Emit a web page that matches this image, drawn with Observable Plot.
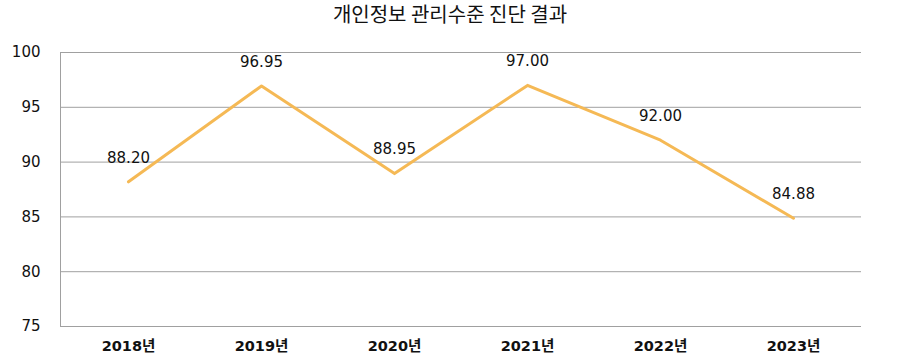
<!DOCTYPE html>
<html><head><meta charset="utf-8">
<script src="https://cdn.jsdelivr.net/npm/d3@7"></script>
<script src="https://cdn.jsdelivr.net/npm/@observablehq/plot@0.6"></script>
<style>
body{margin:0;background:#fff;font-family:"Noto Sans CJK KR","Noto Sans",sans-serif;}
#title{height:30px;line-height:28px;text-align:center;font-size:20px;color:#111;}
</style></head>
<body>
<div id="title">개인정보 관리수준 진단 결과</div>
<div id="chart"></div>
<script>
const years = ["2018년","2019년","2020년","2021년","2022년","2023년"];
const scores = [88.20, 96.95, 88.95, 97.00, 92.00, 84.88];
const yTicks = [75, 80, 85, 90, 95, 100];
const data = years.map((y,i)=>({year:y, score:scores[i]}));
const numFont = '"DejaVu Sans","Noto Sans CJK KR",sans-serif';
const chart = Plot.plot({
  width: 900, height: 332,
  marginTop: 22, marginBottom: 36, marginLeft: 60, marginRight: 39,
  style: {fontFamily: numFont, background: "#fff"},
  x: {type: "point", domain: years, padding: 0.5, label: null},
  y: {domain: [75, 100], label: null},
  marks: [
    Plot.ruleY(yTicks, {stroke: "#a0a0a0", strokeWidth: 1}),
    Plot.axisY(yTicks, {tickSize: 0, tickPadding: 20, fontSize: 15, fill: "#111", label: null}),
    Plot.axisX({tickSize: 0, tickPadding: 14, fontSize: 14.5, fontWeight: 600, fill: "#111", label: null}),
    Plot.line(data, {x: "year", y: "score", stroke: "#F5B955", strokeWidth: 3}),
    Plot.text(data, {x: "year", y: "score", text: d => d.score.toFixed(2), dy: -24, fontSize: 15, fill: "#111"})
  ]
});
d3.select(chart).append("line")
  .attr("x1", 60.5).attr("x2", 60.5).attr("y1", 22).attr("y2", 296)
  .attr("stroke", "#a0a0a0");
document.getElementById("chart").appendChild(chart);
</script>
</body></html>
